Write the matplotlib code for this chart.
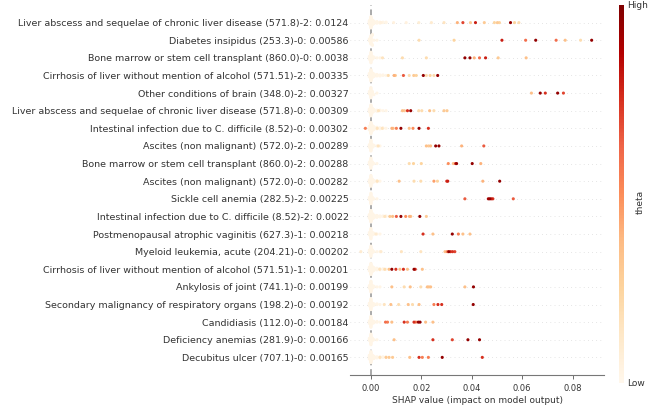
import numpy as np
import matplotlib
matplotlib.use("Agg")
import matplotlib.pyplot as plt

# Feature names, top (most important) first
features = [
    "Liver abscess and sequelae of chronic liver disease (571.8)-2: 0.0124",
    "Diabetes insipidus (253.3)-0: 0.00586",
    "Bone marrow or stem cell transplant (860.0)-0: 0.0038",
    "Cirrhosis of liver without mention of alcohol (571.51)-2: 0.00335",
    "Other conditions of brain (348.0)-2: 0.00327",
    "Liver abscess and sequelae of chronic liver disease (571.8)-0: 0.00309",
    "Intestinal infection due to C. difficile (8.52)-0: 0.00302",
    "Ascites (non malignant) (572.0)-2: 0.00289",
    "Bone marrow or stem cell transplant (860.0)-2: 0.00288",
    "Ascites (non malignant) (572.0)-0: 0.00282",
    "Sickle cell anemia (282.5)-2: 0.00225",
    "Intestinal infection due to C. difficile (8.52)-2: 0.0022",
    "Postmenopausal atrophic vaginitis (627.3)-1: 0.00218",
    "Myeloid leukemia, acute (204.21)-0: 0.00202",
    "Cirrhosis of liver without mention of alcohol (571.51)-1: 0.00201",
    "Ankylosis of joint (741.1)-0: 0.00199",
    "Secondary malignancy of respiratory organs (198.2)-0: 0.00192",
    "Candidiasis (112.0)-0: 0.00184",
    "Deficiency anemias (281.9)-0: 0.00166",
    "Decubitus ulcer (707.1)-0: 0.00165",
]

# SHAP values of the non-trivial samples for each feature
shap_values = [
    [0.004, 0.009, 0.014, 0.019, 0.024, 0.029, 0.0343, 0.0365, 0.0395, 0.0415, 0.045, 0.049, 0.0502, 0.051, 0.0554, 0.057, 0.0587],
    [0.0191, 0.033, 0.052, 0.0614, 0.0654, 0.0735, 0.0771, 0.0832, 0.0876],
    [0.0046, 0.0125, 0.022, 0.0373, 0.0393, 0.041, 0.0431, 0.0455, 0.0505, 0.0616],
    [0.0069, 0.0092, 0.0097, 0.0129, 0.0152, 0.017, 0.018, 0.0208, 0.022, 0.0235, 0.025, 0.0265],
    [0.0637, 0.0672, 0.0692, 0.0741, 0.0764],
    [0.003, 0.0125, 0.0133, 0.0145, 0.0158, 0.019, 0.0202, 0.0233, 0.025, 0.029, 0.0302],
    [-0.0022, 0.0025, 0.0045, 0.0083, 0.0088, 0.0101, 0.0119, 0.0152, 0.0167, 0.0191, 0.0228],
    [0.0029, 0.022, 0.0229, 0.0237, 0.0257, 0.027, 0.036, 0.0448],
    [0.0152, 0.0169, 0.02, 0.0307, 0.0327, 0.0336, 0.034, 0.0402, 0.0436],
    [0.0025, 0.0112, 0.0171, 0.0198, 0.025, 0.0264, 0.0301, 0.0305, 0.0444, 0.0511],
    [0.0373, 0.0466, 0.0472, 0.0478, 0.0484, 0.0565],
    [0.0055, 0.0075, 0.0086, 0.0101, 0.0119, 0.0138, 0.0153, 0.0158, 0.0194, 0.022],
    [0.002, 0.0207, 0.0246, 0.0323, 0.0347, 0.0365, 0.0393],
    [-0.004, 0.004, 0.0121, 0.0198, 0.0294, 0.0303, 0.0309, 0.0316, 0.0324, 0.0333],
    [0.0035, 0.0055, 0.0072, 0.0083, 0.0099, 0.0115, 0.0129, 0.0145, 0.0171, 0.0176, 0.0204],
    [0.0083, 0.0132, 0.0156, 0.0198, 0.0224, 0.023, 0.0237, 0.0373, 0.0407],
    [0.0053, 0.0079, 0.011, 0.0148, 0.0165, 0.0191, 0.025, 0.0266, 0.0281, 0.0406],
    [0.0058, 0.0066, 0.0083, 0.0132, 0.0145, 0.0171, 0.0178, 0.0188, 0.0195, 0.0217, 0.0246],
    [0.0092, 0.0246, 0.0323, 0.0385, 0.0431],
    [0.0036, 0.006, 0.0072, 0.0086, 0.0154, 0.0191, 0.0204, 0.0228, 0.0283, 0.0442],
]

# Matching feature values (theta, scaled 0..1)
theta_values = [
    [0.05, 0.05, 0.05, 0.08, 0.1, 0.15, 0.4, 0.7, 0.3, 0.8, 0.3, 0.25, 0.3, 0.25, 0.95, 0.25, 0.2],
    [0.2, 0.25, 0.8, 0.6, 0.95, 0.6, 0.35, 0.2, 0.95],
    [0.15, 0.2, 0.2, 0.95, 0.95, 0.4, 0.6, 0.8, 0.3, 0.35],
    [0.2, 0.4, 0.3, 0.65, 0.2, 0.3, 0.25, 0.95, 0.2, 0.25, 0.2, 0.95],
    [0.35, 0.95, 0.75, 0.95, 0.7],
    [0.15, 0.35, 0.3, 0.75, 0.95, 0.2, 0.2, 0.35, 0.2, 0.3, 0.3],
    [0.55, 0.15, 0.15, 0.4, 0.35, 0.55, 0.95, 0.35, 0.5, 0.95, 0.75],
    [0.15, 0.35, 0.3, 0.35, 0.95, 0.95, 0.4, 0.65],
    [0.2, 0.25, 0.25, 0.5, 0.35, 0.75, 0.95, 0.95, 0.4],
    [0.15, 0.35, 0.2, 0.2, 0.45, 0.25, 0.75, 0.8, 0.4, 0.95],
    [0.65, 0.9, 0.95, 0.8, 0.75, 0.65],
    [0.15, 0.3, 0.35, 0.65, 0.95, 0.5, 0.4, 0.35, 0.95, 0.3],
    [0.1, 0.75, 0.35, 0.95, 0.55, 0.35, 0.35],
    [0.1, 0.1, 0.15, 0.15, 0.35, 0.55, 0.95, 0.75, 0.75, 0.7],
    [0.15, 0.2, 0.35, 0.95, 0.75, 0.35, 0.75, 0.35, 0.95, 0.75, 0.35],
    [0.35, 0.2, 0.35, 0.2, 0.35, 0.3, 0.35, 0.35, 0.95],
    [0.15, 0.35, 0.2, 0.35, 0.2, 0.35, 0.55, 0.75, 0.75, 0.95],
    [0.6, 0.55, 0.35, 0.75, 0.55, 0.75, 0.55, 0.95, 0.95, 0.35, 0.35],
    [0.35, 0.75, 0.7, 0.95, 0.95],
    [0.15, 0.3, 0.3, 0.3, 0.35, 0.75, 0.55, 0.55, 0.95, 0.75],
]

# Samples with ~zero impact: value grid and counts per feature
near_zero_grid = [-0.0006, 0.0, 0.0006, 0.0012, 0.0024, 0.0036, 0.0048, 0.006]
near_zero_counts = [
    [8, 24, 10, 6, 4, 3, 2, 2],
    [4, 14, 4, 1, 1, 0, 0, 0],
    [5, 16, 5, 2, 1, 1, 0, 0],
    [8, 24, 10, 6, 4, 3, 2, 1],
    [4, 14, 4, 1, 1, 0, 0, 0],
    [6, 20, 8, 4, 3, 2, 1, 1],
    [8, 22, 10, 6, 4, 3, 2, 1],
    [5, 18, 5, 2, 1, 1, 0, 0],
    [4, 14, 4, 1, 1, 0, 0, 0],
    [5, 18, 6, 3, 2, 1, 0, 0],
    [4, 16, 4, 1, 1, 0, 0, 0],
    [9, 26, 12, 7, 5, 3, 2, 2],
    [4, 14, 4, 2, 1, 1, 0, 0],
    [4, 14, 4, 1, 1, 1, 0, 0],
    [8, 22, 10, 6, 4, 2, 2, 1],
    [5, 18, 5, 2, 1, 1, 0, 0],
    [5, 18, 5, 3, 2, 1, 0, 0],
    [5, 18, 5, 3, 2, 1, 0, 0],
    [4, 16, 4, 1, 1, 0, 0, 0],
    [8, 22, 8, 5, 3, 2, 2, 1],
]
near_zero_theta = 0.02

W, H = 652, 405
fig = plt.figure(figsize=(W / 100, H / 100), dpi=100)
ax = fig.add_axes([350 / W, 1 - 375 / H, (604 - 350) / W, (375 - 5) / H])
cmap = plt.get_cmap("OrRd")

row_height = 0.4
n = len(features)
for i, name in enumerate(features):
    pos = n - 1 - i
    vals = list(shap_values[i])
    cols = list(theta_values[i])
    for v, c in zip(near_zero_grid, near_zero_counts[i]):
        vals += [v] * c
        cols += [near_zero_theta] * c
    vals = np.array(vals)
    cols = np.array(cols)

    # beeswarm stacking: quantise along x, alternate layers above/below
    nbins = 100
    quant = np.round(nbins * (vals - vals.min()) / (vals.max() - vals.min() + 1e-8))
    order = np.argsort(quant, kind="stable")
    ys = np.zeros(len(vals))
    layer, last_bin = 0, -1
    for ind in order:
        if quant[ind] != last_bin:
            layer = 0
        ys[ind] = np.ceil(layer / 2) * ((layer % 2) * 2 - 1)
        layer += 1
        last_bin = quant[ind]
    ys *= 0.9 * (row_height / np.max(ys + 1))

    # paint low values first so the dark dots stay on top
    draw = np.argsort(cols, kind="stable")
    ax.axhline(pos, color="#cccccc", lw=0.5, dashes=(1, 5), zorder=-1)
    ax.scatter(vals[draw], pos + ys[draw], c=cols[draw], cmap=cmap, vmin=0, vmax=1,
               s=5, linewidths=0, zorder=3)

ax.axvline(0, color="#aaaaaa", lw=1.4, dashes=(3, 2), zorder=-1)

ax.set_xlim(-0.0083, 0.0925)
ax.set_ylim(-1, n)
ax.set_yticks(range(n))
ax.set_yticklabels(features[::-1], fontsize=6.8, color="#333333")
ax.tick_params(axis="y", length=0, pad=1)
ax.set_xticks([0.0, 0.02, 0.04, 0.06, 0.08])
ax.set_xticklabels(["0.00", "0.02", "0.04", "0.06", "0.08"])
ax.tick_params(axis="x", labelsize=6, colors="#333333", length=3, width=0.5)
for side in ("top", "right", "left"):
    ax.spines[side].set_visible(False)
ax.spines["bottom"].set_color("#777777")
ax.set_xlabel("SHAP value (impact on model output)", fontsize=6.5, color="#333333", labelpad=2)

# colour bar for theta
cax = fig.add_axes([619 / W, 1 - 383 / H, 5 / W, (383 - 5) / H])
sm = matplotlib.cm.ScalarMappable(cmap=cmap, norm=matplotlib.colors.Normalize(0, 1))
cb = fig.colorbar(sm, cax=cax)
cb.set_ticks([0, 1])
cb.set_ticklabels(["Low", "High"])
cb.ax.tick_params(labelsize=6.5, length=0, colors="#333333", pad=2)
cb.set_label("theta", size=6.5, color="#333333")
cb.ax.yaxis.set_label_coords(3.3, 0.48)
cb.outline.set_visible(False)

fig.savefig("out.png", dpi=100)
